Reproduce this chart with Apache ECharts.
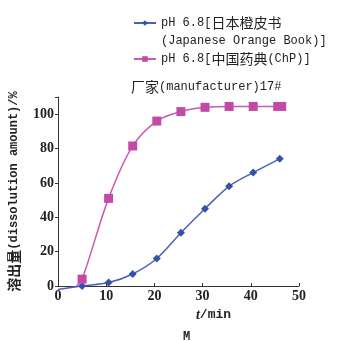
<!DOCTYPE html>
<html>
<head>
<meta charset="utf-8">
<script src="https://cdn.jsdelivr.net/npm/echarts@6/dist/echarts.min.js"></script>
<style>
  html, body { margin: 0; padding: 0; background: #fff; }
  #chart { width: 343px; height: 341px; }
</style>
</head>
<body>
<div id="chart"></div>
<script>
// Sampling times (min) and dissolution amounts (%)
const times = [5, 10.5, 15.5, 20.5, 25.5, 30.5, 35.5, 40.5, 46];
const japanValues = [0, 2, 7, 16, 31, 45, 58, 66, 74];
const chinaValues = [4, 51, 81.5, 96, 101.5, 104, 104.5, 104.5, 104.5];
// Curve start points (unmarked)
const japanStart = [0, -2];
const chinaStart = [3.8, 0];
const yTicks = [0, 20, 40, 60, 80, 100];

const seriesNames = ['pH 6.8[日本橙皮书\n(Japanese Orange Book)]', 'pH 6.8[中国药典(ChP)]'];
const FONT = '"Liberation Mono", "Noto Sans CJK SC", monospace';
const CJK = '"Noto Sans CJK SC", sans-serif';
const NUMFONT = '"Liberation Serif", serif';

// Han characters get a slightly larger size than the Latin text
const cjkRich = { c: { fontFamily: CJK, fontSize: 14, color: '#222' } };
const tagCjk = s => s.replace(/([\u4e00-\u9fff]+)/g, '{c|$1}');

function buildData(start, xs, ys, lastSize) {
  const out = [{ value: start, symbol: 'none' }];
  xs.forEach((x, i) => {
    if (lastSize && i === xs.length - 1) out.push({ value: [x, ys[i]], symbolSize: lastSize });
    else out.push([x, ys[i]]);
  });
  return out;
}

const legendBase = {
  orient: 'vertical', left: 133, padding: 0,
  itemWidth: 22, itemHeight: 7, itemGap: 0,
  formatter: tagCjk
};

const chart = echarts.init(document.getElementById('chart'));
chart.setOption({
  animation: false,
  title: [
    { text: tagCjk('厂家(manufacturer)17#'), left: 126, top: 75,
      textStyle: { fontFamily: FONT, fontSize: 12, fontWeight: 'normal', color: '#222', rich: cjkRich } },
    { text: 'M', left: 178, top: 326,
      textStyle: { fontFamily: FONT, fontSize: 12, fontWeight: 'bold', color: '#222' } }
  ],
  legend: [
    Object.assign({}, legendBase, {
      top: -4, data: [seriesNames[0]],
      textStyle: { fontFamily: FONT, fontSize: 12, color: '#222', lineHeight: 18, padding: [18, 0, 0, 0], rich: cjkRich }
    }),
    Object.assign({}, legendBase, {
      top: 50, data: [seriesNames[1]],
      textStyle: { fontFamily: FONT, fontSize: 12, color: '#222', lineHeight: 18, rich: cjkRich }
    })
  ],
  grid: { left: 58, right: 44, top: 97, bottom: 55, outerBoundsMode: 'none', containLabel: false },
  xAxis: {
    type: 'value', min: 0, max: 50, interval: 10,
    name: '{i|t}/min', nameLocation: 'middle', nameGap: 18,
    nameTextStyle: {
      fontFamily: FONT, fontSize: 13, fontWeight: 'bold', color: '#222', padding: [0, 0, 0, 70],
      rich: { i: { fontFamily: NUMFONT, fontStyle: 'italic', fontWeight: 'bold', fontSize: 14, color: '#222' } }
    },
    axisLine: { lineStyle: { color: '#333', width: 1 } },
    axisTick: { inside: true, length: 3, lineStyle: { color: '#333' } },
    axisLabel: { fontFamily: NUMFONT, fontSize: 14, fontWeight: 'bold', color: '#222', margin: 3 },
    splitLine: { show: false }
  },
  yAxis: {
    type: 'value', min: 0, max: 110, interval: 20,
    name: tagCjk('溶出量') + '(dissolution amount)/%', nameLocation: 'middle', nameGap: 37,
    nameTextStyle: {
      fontFamily: FONT, fontSize: 12, fontWeight: 'bold', color: '#222',
      rich: { c: { fontFamily: CJK, fontSize: 14, fontWeight: 'bold', color: '#222' } }
    },
    axisLine: { show: true, lineStyle: { color: '#333', width: 1 } },
    axisTick: { show: true, length: 3, lineStyle: { color: '#333' } },
    axisLabel: {
      fontFamily: NUMFONT, fontSize: 14, fontWeight: 'bold', color: '#222', margin: 4,
      formatter: v => (yTicks.includes(v) ? String(v) : '')
    },
    splitLine: { show: false }
  },
  series: [
    {
      name: seriesNames[0], type: 'line', smooth: 0.35, clip: false,
      symbol: 'diamond', symbolSize: 8,
      lineStyle: { color: '#4a62b4', width: 1.5 },
      itemStyle: { color: '#3552a6' },
      data: buildData(japanStart, times, japanValues)
    },
    {
      name: seriesNames[1], type: 'line', smooth: 0.35, clip: false,
      symbol: 'rect', symbolSize: 9,
      lineStyle: { color: '#c95aae', width: 1.5 },
      itemStyle: { color: '#c24aa6' },
      data: buildData(chinaStart, times, chinaValues, [13, 9])
    }
  ]
});
</script>
</body>
</html>
